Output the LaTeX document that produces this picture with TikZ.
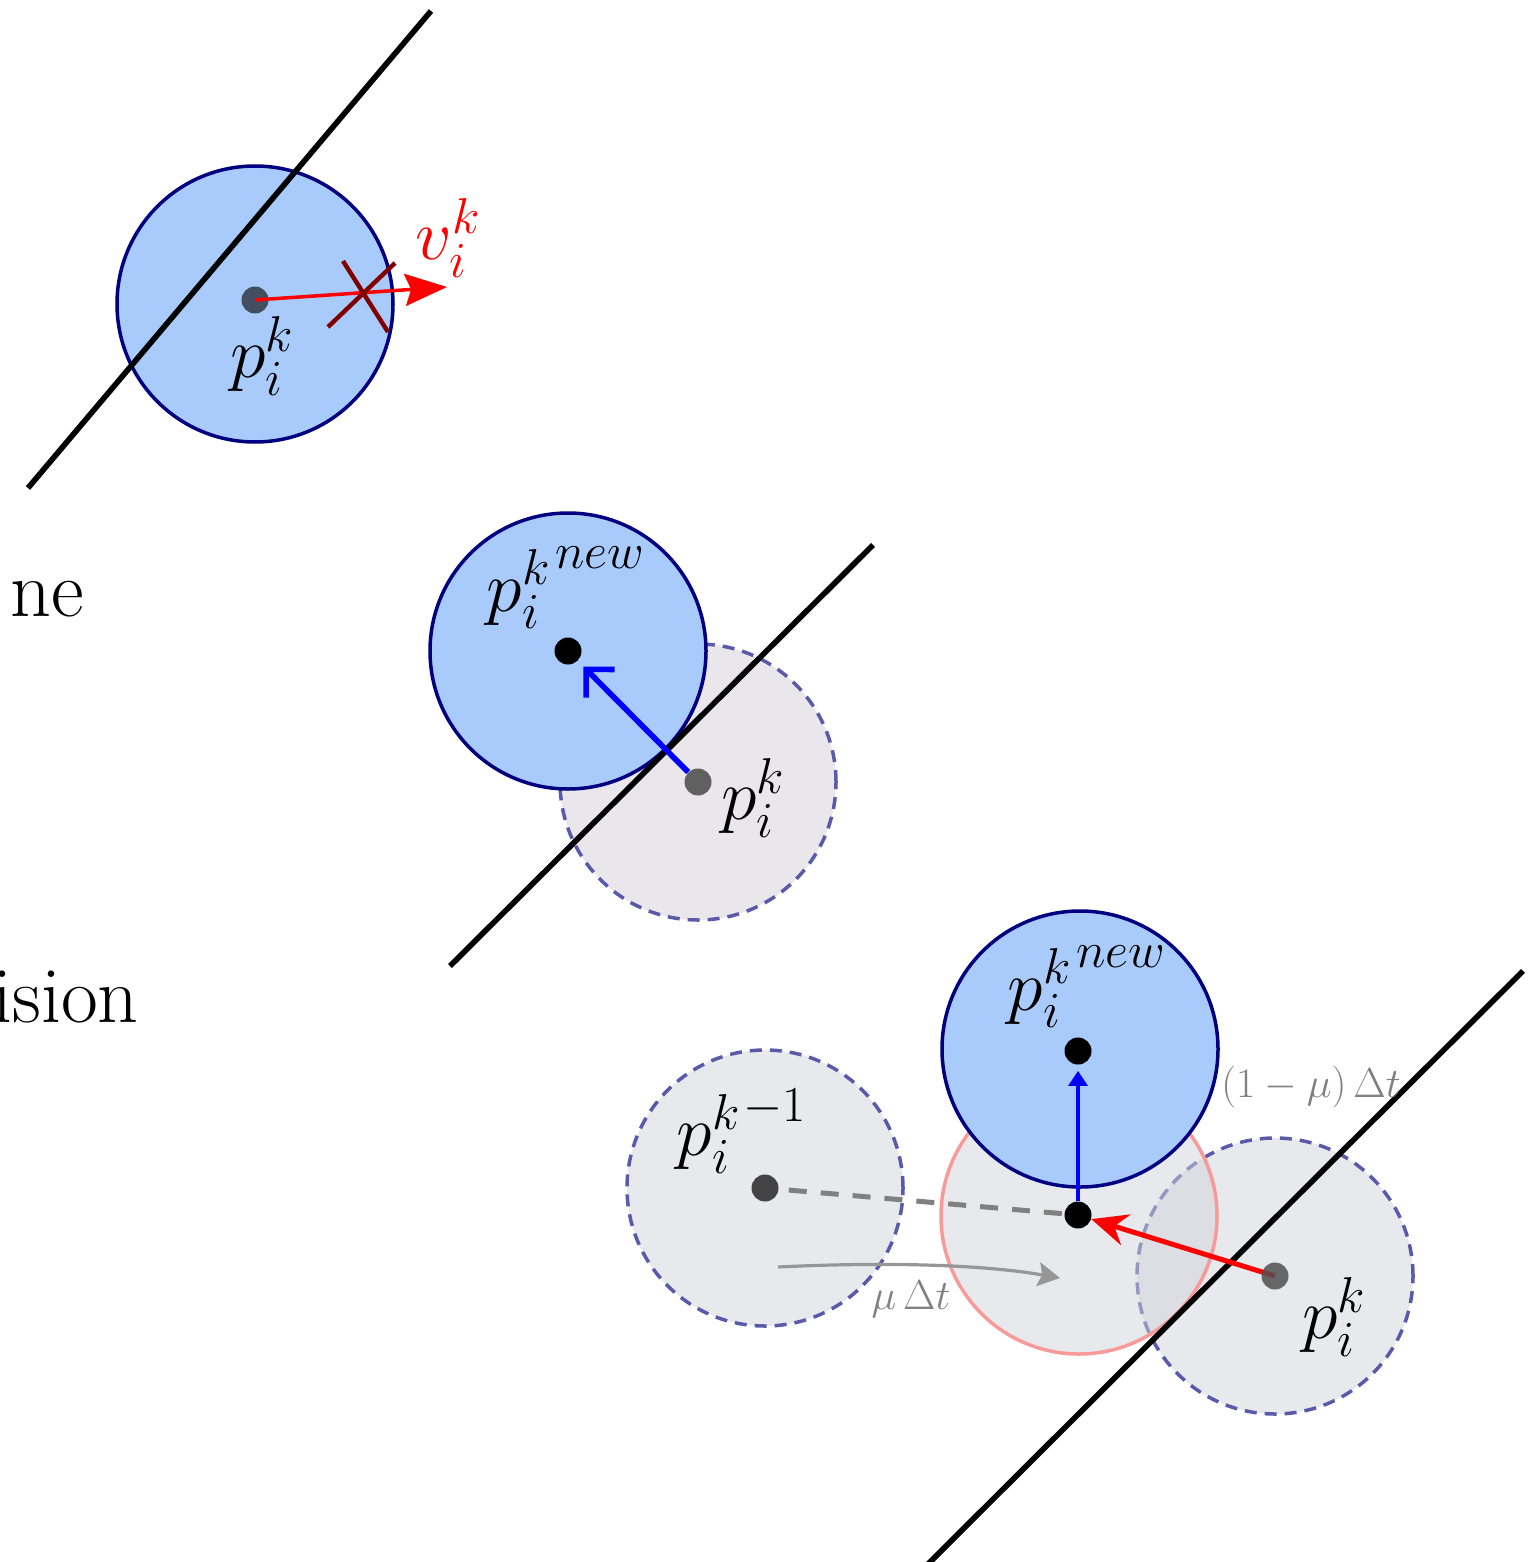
\RequirePackage{fix-cm}
\documentclass[tikz,border=0pt]{standalone}
\usetikzlibrary{arrows.meta}
\definecolor{ballfill}{RGB}{169,203,251}
\definecolor{navyc}{RGB}{0,0,128}
\definecolor{ghostA}{RGB}{233,231,236}
\definecolor{ghostB}{RGB}{208,211,218}
\definecolor{dashc}{RGB}{90,90,170}
\definecolor{pinkc}{RGB}{248,154,154}
\definecolor{slatedot}{RGB}{67,78,96}
\definecolor{dotgray}{RGB}{96,96,96}
\definecolor{darkdot}{RGB}{68,68,68}
\definecolor{kdot}{RGB}{80,80,80}
\definecolor{xred}{RGB}{128,0,0}
\definecolor{curvegray}{RGB}{150,150,150}
\definecolor{dashgray}{RGB}{128,128,128}
\pgfdeclarelayer{balls}
\pgfdeclarelayer{links}
\pgfsetlayers{balls,links,main}
\newcommand{\pnew}{p_i^{k\hspace{3pt}\raisebox{8pt}{$\scriptstyle new$}}}
\newcommand{\pprev}{p_i^{k\hspace{2pt}\raisebox{4pt}{$\scriptstyle -1$}}}
\begin{document}
\begin{tikzpicture}[x=0.5pt,y=-0.5pt,
  plane/.style={line width=2.8pt,line cap=butt,black},
  ball/.style={circle,inner sep=0pt,minimum size=138pt,line width=1.75pt},
  realball/.style={ball,draw=navyc,fill=ballfill},
  ghost/.style={ball,draw=dashc,dash pattern=on 6pt off 4pt,fill=#1},
  ghostt/.style={ball,draw=dashc,dash pattern=on 6pt off 4pt,fill=ghostB,fill opacity=0.5},
  dotn/.style={circle,inner sep=0pt,minimum size=13.5pt,fill=#1},
  lbl/.style={font=\fontsize{36}{42}\selectfont,inner sep=0pt},
  glbl/.style={font=\fontsize{21}{25}\selectfont,text=gray,inner sep=0pt},
  wordlbl/.style={font=\fontsize{40}{48}\selectfont,inner sep=0pt},
]
\useasboundingbox (0,0) rectangle (1531,1562);

% ---------- side texts ----------
\node[wordlbl,anchor=base east] (t1) at (84,616) {ne};
\node[wordlbl,anchor=base west] (t2) at (-8,1022) {ision};

% ---------- panel 1 ----------
\begin{pgfonlayer}{balls}
\node[realball] (b1) at (255,304) {};
\end{pgfonlayer}
\coordinate (pl1a) at (28,488);
\coordinate (pl1b) at (431,11);
\node[dotn=slatedot] (d1) at (255,300) {};
\coordinate (v1) at (447,287);
\coordinate (x1a) at (328,327);
\coordinate (x1b) at (395,263);
\coordinate (x2a) at (343,261);
\coordinate (x2b) at (388,332);
\begin{pgfonlayer}{links}
\draw[plane] (pl1a) -- (pl1b);
\end{pgfonlayer}
\draw[red,line width=1.75pt,-{Stealth[length=21pt,width=16pt,inset=3pt]}] (d1.center) -- (v1);
\draw[xred,line width=2.2pt] (x1a) -- (x1b) (x2a) -- (x2b);
\node[lbl] (l1) at (262,356) {$p_i^k$};
\node[lbl,text=red] (lv) at (448,238) {$v_i^k$};

% ---------- panel 2 ----------
\begin{pgfonlayer}{balls}
\node[ghost=ghostA] (g2) at (698,782) {};
\node[realball] (b2) at (568,651) {};
\end{pgfonlayer}
\coordinate (pl2a) at (450,966);
\coordinate (pl2b) at (873,545);
\node[dotn=black] (d2n) at (568,651) {};
\node[dotn=dotgray] (d2o) at (698,782) {};
\begin{pgfonlayer}{links}
\draw[plane] (pl2a) -- (pl2b);
\draw[blue,line width=2.8pt,-{Straight Barb[length=10pt,width=20pt]},shorten >=4pt] (d2o) -- (d2n);
\end{pgfonlayer}
\node[lbl] (l2n) at (566,588) {$\pnew$};
\node[lbl] (l2o) at (753,798) {$p_i^k$};

% ---------- panel 3 ----------
\begin{pgfonlayer}{balls}
\node[ghostt] (g3r) at (1275,1276) {};
\node[ball,draw=pinkc,fill=ghostB,fill opacity=0.5] (r3) at (1079,1216) {};
\node[ghostt] (g3l) at (765,1188) {};
\node[realball] (b3) at (1080,1049) {};
\end{pgfonlayer}
\coordinate (pl3a) at (928,1564);
\coordinate (pl3b) at (1523,971);
\coordinate (mu0) at (778,1267);
\coordinate (mu1) at (1060,1278);
\node[dotn=darkdot] (d3l) at (765,1188) {};
\node[dotn=black] (d3m) at (1078,1215) {};
\node[dotn=black] (d3n) at (1078,1051) {};
\node[dotn=kdot,fill opacity=0.85] (d3k) at (1275,1276) {};
\begin{pgfonlayer}{links}
\draw[plane] (pl3a) -- (pl3b);
\draw[dashgray,line width=2.5pt,dash pattern=on 9pt off 7pt,shorten <=5pt] (d3l) -- (d3m.center);
\draw[curvegray,line width=1.6pt,-{Stealth[length=11pt,width=12pt,inset=2pt]}] (mu0) .. controls (880,1262) and (980,1264) .. (mu1);
\draw[blue,line width=1.6pt,-{Triangle[length=7.5pt,width=9.5pt]},shorten >=3pt] (d3m) -- (d3n);
\draw[red,line width=2.5pt,-{Stealth[length=18pt,width=16pt,inset=6pt]}] (d3k.center) -- (d3m);
\end{pgfonlayer}
\node[lbl] (l3o) at (742,1131) {$\pprev$};
\node[lbl] (l3n) at (1087,987) {$\pnew$};
\node[lbl] (l3k) at (1334,1317) {$p_i^k$};
\node[glbl] (lmu) at (911,1299) {$\mu\,\Delta t$};
\node[glbl] (lmu2) at (1311,1087) {$(1-\mu)\,\Delta t$};
\end{tikzpicture}
\end{document}
